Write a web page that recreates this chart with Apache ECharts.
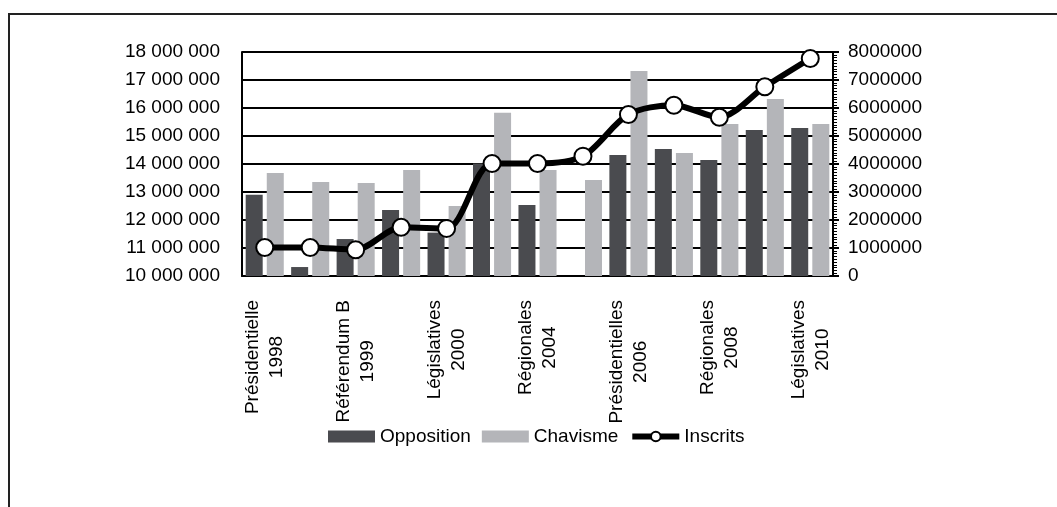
<!DOCTYPE html>
<html>
<head>
<meta charset="utf-8">
<script src="https://cdn.jsdelivr.net/npm/echarts@6/dist/echarts.min.js"></script>
<style>
  html, body { margin: 0; padding: 0; background: #fff; }
  #chart { width: 1057px; height: 507px; }
</style>
</head>
<body>
<div id="chart"></div>
<script>
// Election rounds (only every other name is printed under the axis)
var categories = [
  'Présidentielle\n1998',
  'Référendum A\n1999',
  'Référendum B\n1999',
  'Présidentielle\n2000',
  'Législatives\n2000',
  'Référendum\n2004',
  'Régionales\n2004',
  'Législatives\n2005',
  'Présidentielles\n2006',
  'Référendum\n2007',
  'Régionales\n2008',
  'Référendum\n2009',
  'Législatives\n2010'
];

// Votes (right axis)
var opposition = [2900000, 320000, 1320000, 2360000, 1550000, 4020000, 2540000, null, 4320000, 4540000, 4140000, 5210000, 5290000];
var chavisme   = [3680000, 3360000, 3320000, 3790000, 2500000, 5830000, 3790000, 3430000, 7320000, 4390000, 5430000, 6320000, 5430000];

// Registered voters (left axis)
var inscrits = [11020000, 11020000, 10940000, 11740000, 11700000, 14020000, 14020000, 14280000, 15770000, 16100000, 15670000, 16760000, 17770000];

var FONT = 'Liberation Sans, Arial, sans-serif';
var FS = 19;

function spaced(v) {
  return String(Math.round(v)).replace(/\B(?=(\d{3})+(?!\d))/g, ' ');
}

var chart = echarts.init(document.getElementById('chart'), null, { renderer: 'canvas' });

chart.setOption({
  animation: false,
  backgroundColor: '#ffffff',
  textStyle: { fontFamily: FONT },
  graphic: [{
    type: 'rect',
    shape: { x: 9, y: 14, width: 1080, height: 520 },
    style: { fill: 'none', stroke: '#222', lineWidth: 2 },
    silent: true
  }],
  grid: { left: 242, right: 224, top: 52, bottom: 231, containLabel: false },
  legend: {
    left: 328,
    top: 427,
    padding: 0,
    itemWidth: 47,
    itemHeight: 12,
    itemGap: 11,
    textStyle: { fontFamily: FONT, fontSize: FS, color: '#000' },
    data: [
      { name: 'Opposition', icon: 'rect' },
      { name: 'Chavisme', icon: 'rect' },
      { name: 'Inscrits', lineStyle: { width: 6, color: '#000' }, itemStyle: { color: '#fff', borderColor: '#000', borderWidth: 2 } }
    ]
  },
  xAxis: {
    type: 'category',
    data: categories,
    boundaryGap: true,
    axisLine: { show: true, lineStyle: { color: '#000', width: 2 } },
    axisTick: { show: false },
    axisLabel: {
      interval: 1,
      rotate: 90,
      margin: 24,
      color: '#000',
      fontFamily: FONT,
      fontSize: FS,
      formatter: function (v) {
        return v.split('\n').map(function (s) { return '{c|' + s + '}'; }).join('\n');
      },
      rich: {
        c: { align: 'center', fontFamily: FONT, fontSize: FS, lineHeight: 24, color: '#000' }
      }
    }
  },
  yAxis: [{
    type: 'value',
    position: 'left',
    min: 10000000,
    max: 18000000,
    interval: 1000000,
    axisLine: { show: true, lineStyle: { color: '#000', width: 2 } },
    axisTick: { show: false },
    splitLine: { show: true, lineStyle: { color: '#000', width: 2 } },
    axisLabel: {
      margin: 22,
      color: '#000',
      fontFamily: FONT,
      fontSize: FS,
      formatter: spaced
    }
  }, {
    type: 'value',
    position: 'right',
    min: 0,
    max: 8000000,
    interval: 1000000,
    axisLine: { show: true, lineStyle: { color: '#000', width: 2 } },
    axisTick: { show: true, length: 6, lineStyle: { color: '#000', width: 2 } },
    minorTick: { show: true, splitNumber: 10, length: 4, lineStyle: { color: '#000', width: 1 } },
    splitLine: { show: false },
    axisLabel: {
      margin: 15,
      color: '#000',
      fontFamily: FONT,
      fontSize: FS,
      formatter: function (v) { return String(Math.round(v)); }
    }
  }],
  series: [{
    name: 'Opposition',
    type: 'bar',
    yAxisIndex: 1,
    data: opposition,
    barWidth: 17,
    barGap: '24%',
    itemStyle: { color: '#4a4b4f' },
    z: 2
  }, {
    name: 'Chavisme',
    type: 'bar',
    yAxisIndex: 1,
    data: chavisme,
    barWidth: 17,
    itemStyle: { color: '#b4b5b9' },
    z: 2
  }, {
    name: 'Inscrits',
    type: 'line',
    yAxisIndex: 0,
    data: inscrits,
    smooth: 0.3,
    symbol: 'circle',
    symbolSize: 17,
    lineStyle: { color: '#000', width: 6 },
    itemStyle: { color: '#fff', borderColor: '#000', borderWidth: 2 },
    z: 5
  }]
});
</script>
</body>
</html>
